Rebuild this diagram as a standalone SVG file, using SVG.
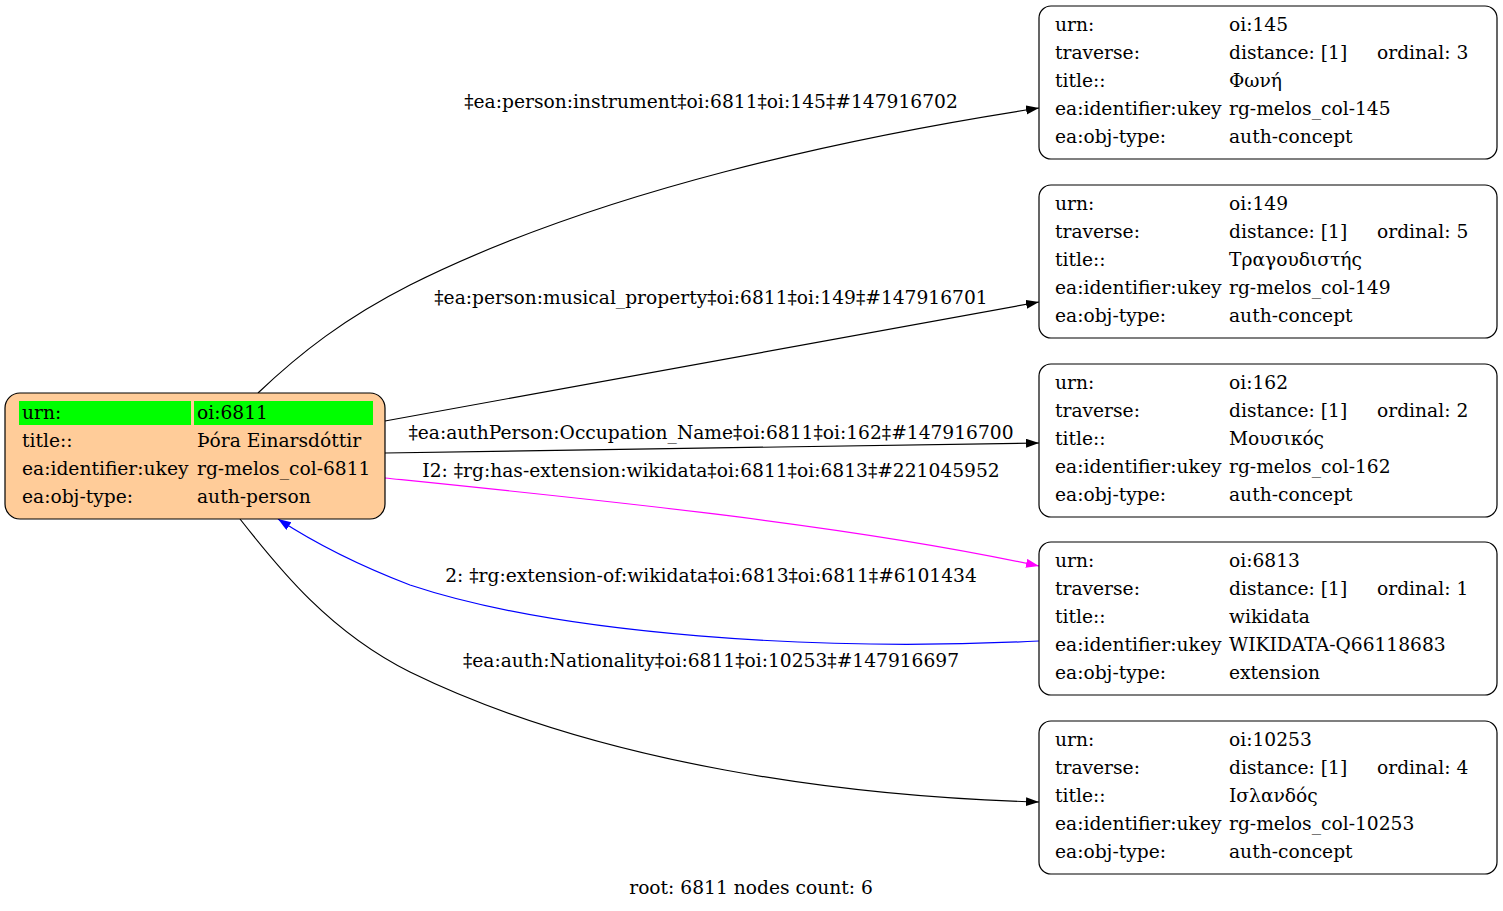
<svg xmlns="http://www.w3.org/2000/svg" width="1503" height="911" viewBox="0 0 1503 911">
<defs>
<style>
text{font-family:"DejaVu Serif","Liberation Serif",serif;font-size:18.67px;fill:#000}
.lbl{text-anchor:middle}
.box{fill:#fff;stroke:#000;stroke-width:1.2}
.root{fill:#ffcc99;stroke:#000;stroke-width:1.2}
.hl{fill:#00ff00}
.e{fill:none;stroke:#000;stroke-width:1.2}
</style>
<marker id="ab" markerUnits="userSpaceOnUse" markerWidth="14" markerHeight="10" refX="13" refY="4.5" orient="auto"><path d="M0,0 L13,4.5 L0,9 z" fill="#000"/></marker>
<marker id="am" markerUnits="userSpaceOnUse" markerWidth="14" markerHeight="10" refX="13" refY="4.5" orient="auto"><path d="M0,0 L13,4.5 L0,9 z" fill="#ff00ff"/></marker>
<marker id="abl" markerUnits="userSpaceOnUse" markerWidth="14" markerHeight="10" refX="13" refY="4.5" orient="auto"><path d="M0,0 L13,4.5 L0,9 z" fill="#0000ff"/></marker>
</defs>
<rect width="1503" height="911" fill="#fff"/>
<g id="edges">
<path class="e" d="M258,393 C300,353 345,318 410,285 C600,190 850,137 1039,108" marker-end="url(#ab)"/>
<text class="lbl" x="711" y="108">‡ea:person:instrument‡oi:6811‡oi:145‡#147916702</text>
<path class="e" d="M385,421 L1039,302" marker-end="url(#ab)"/>
<text class="lbl" x="711" y="304">‡ea:person:musical_property‡oi:6811‡oi:149‡#147916701</text>
<path class="e" d="M385,453 L1039,443" marker-end="url(#ab)"/>
<text class="lbl" x="711" y="439">‡ea:authPerson:Occupation_Name‡oi:6811‡oi:162‡#147916700</text>
<path class="e" style="stroke:#ff00ff" d="M385,478 C600,500 850,525 1039,566" marker-end="url(#am)"/>
<text class="lbl" x="711" y="477">I2: ‡rg:has-extension:wikidata‡oi:6811‡oi:6813‡#221045952</text>
<path class="e" style="stroke:#0000ff" d="M1039,641 C820,652 560,635 410,585 C350,562 310,540 278,519" marker-end="url(#abl)"/>
<text class="lbl" x="711" y="582">2: ‡rg:extension-of:wikidata‡oi:6813‡oi:6811‡#6101434</text>
<path class="e" d="M240,519 C280,570 330,632 410,672 C600,765 850,797 1039,802" marker-end="url(#ab)"/>
<text class="lbl" x="711" y="667">‡ea:auth:Nationality‡oi:6811‡oi:10253‡#147916697</text>
</g>
<g id="n6811">
<rect class="root" x="5" y="393" width="380" height="126" rx="15"/>
<rect class="hl" x="19" y="401" width="172" height="24"/>
<rect class="hl" x="194" y="401" width="179" height="24"/>
<text x="22" y="419">urn:</text><text x="197" y="419">oi:6811</text>
<text x="22" y="447">title::</text><text x="197" y="447">Þóra Einarsdóttir</text>
<text x="22" y="475">ea:identifier:ukey</text><text x="197" y="475">rg-melos_col-6811</text>
<text x="22" y="503">ea:obj-type:</text><text x="197" y="503">auth-person</text>
</g>
<g id="n145">
<rect class="box" x="1039" y="6" width="458" height="153" rx="12"/>
<text x="1055" y="31">urn:</text><text x="1229" y="31">oi:145</text>
<text x="1055" y="59">traverse:</text><text x="1229" y="59">distance: [1]</text><text x="1377" y="59">ordinal: 3</text>
<text x="1055" y="87">title::</text><text x="1229" y="87">Φωνή</text>
<text x="1055" y="115">ea:identifier:ukey</text><text x="1229" y="115">rg-melos_col-145</text>
<text x="1055" y="143">ea:obj-type:</text><text x="1229" y="143">auth-concept</text>
</g>
<g id="n149">
<rect class="box" x="1039" y="185" width="458" height="153" rx="12"/>
<text x="1055" y="210">urn:</text><text x="1229" y="210">oi:149</text>
<text x="1055" y="238">traverse:</text><text x="1229" y="238">distance: [1]</text><text x="1377" y="238">ordinal: 5</text>
<text x="1055" y="266">title::</text><text x="1229" y="266">Τραγουδιστής</text>
<text x="1055" y="294">ea:identifier:ukey</text><text x="1229" y="294">rg-melos_col-149</text>
<text x="1055" y="322">ea:obj-type:</text><text x="1229" y="322">auth-concept</text>
</g>
<g id="n162">
<rect class="box" x="1039" y="364" width="458" height="153" rx="12"/>
<text x="1055" y="389">urn:</text><text x="1229" y="389">oi:162</text>
<text x="1055" y="417">traverse:</text><text x="1229" y="417">distance: [1]</text><text x="1377" y="417">ordinal: 2</text>
<text x="1055" y="445">title::</text><text x="1229" y="445">Μουσικός</text>
<text x="1055" y="473">ea:identifier:ukey</text><text x="1229" y="473">rg-melos_col-162</text>
<text x="1055" y="501">ea:obj-type:</text><text x="1229" y="501">auth-concept</text>
</g>
<g id="n6813">
<rect class="box" x="1039" y="542" width="458" height="153" rx="12"/>
<text x="1055" y="567">urn:</text><text x="1229" y="567">oi:6813</text>
<text x="1055" y="595">traverse:</text><text x="1229" y="595">distance: [1]</text><text x="1377" y="595">ordinal: 1</text>
<text x="1055" y="623">title::</text><text x="1229" y="623">wikidata</text>
<text x="1055" y="651">ea:identifier:ukey</text><text x="1229" y="651">WIKIDATA-Q66118683</text>
<text x="1055" y="679">ea:obj-type:</text><text x="1229" y="679">extension</text>
</g>
<g id="n10253">
<rect class="box" x="1039" y="721" width="458" height="153" rx="12"/>
<text x="1055" y="746">urn:</text><text x="1229" y="746">oi:10253</text>
<text x="1055" y="774">traverse:</text><text x="1229" y="774">distance: [1]</text><text x="1377" y="774">ordinal: 4</text>
<text x="1055" y="802">title::</text><text x="1229" y="802">Ισλανδός</text>
<text x="1055" y="830">ea:identifier:ukey</text><text x="1229" y="830">rg-melos_col-10253</text>
<text x="1055" y="858">ea:obj-type:</text><text x="1229" y="858">auth-concept</text>
</g>
<text class="lbl" x="751" y="894">root: 6811 nodes count: 6</text>
</svg>
